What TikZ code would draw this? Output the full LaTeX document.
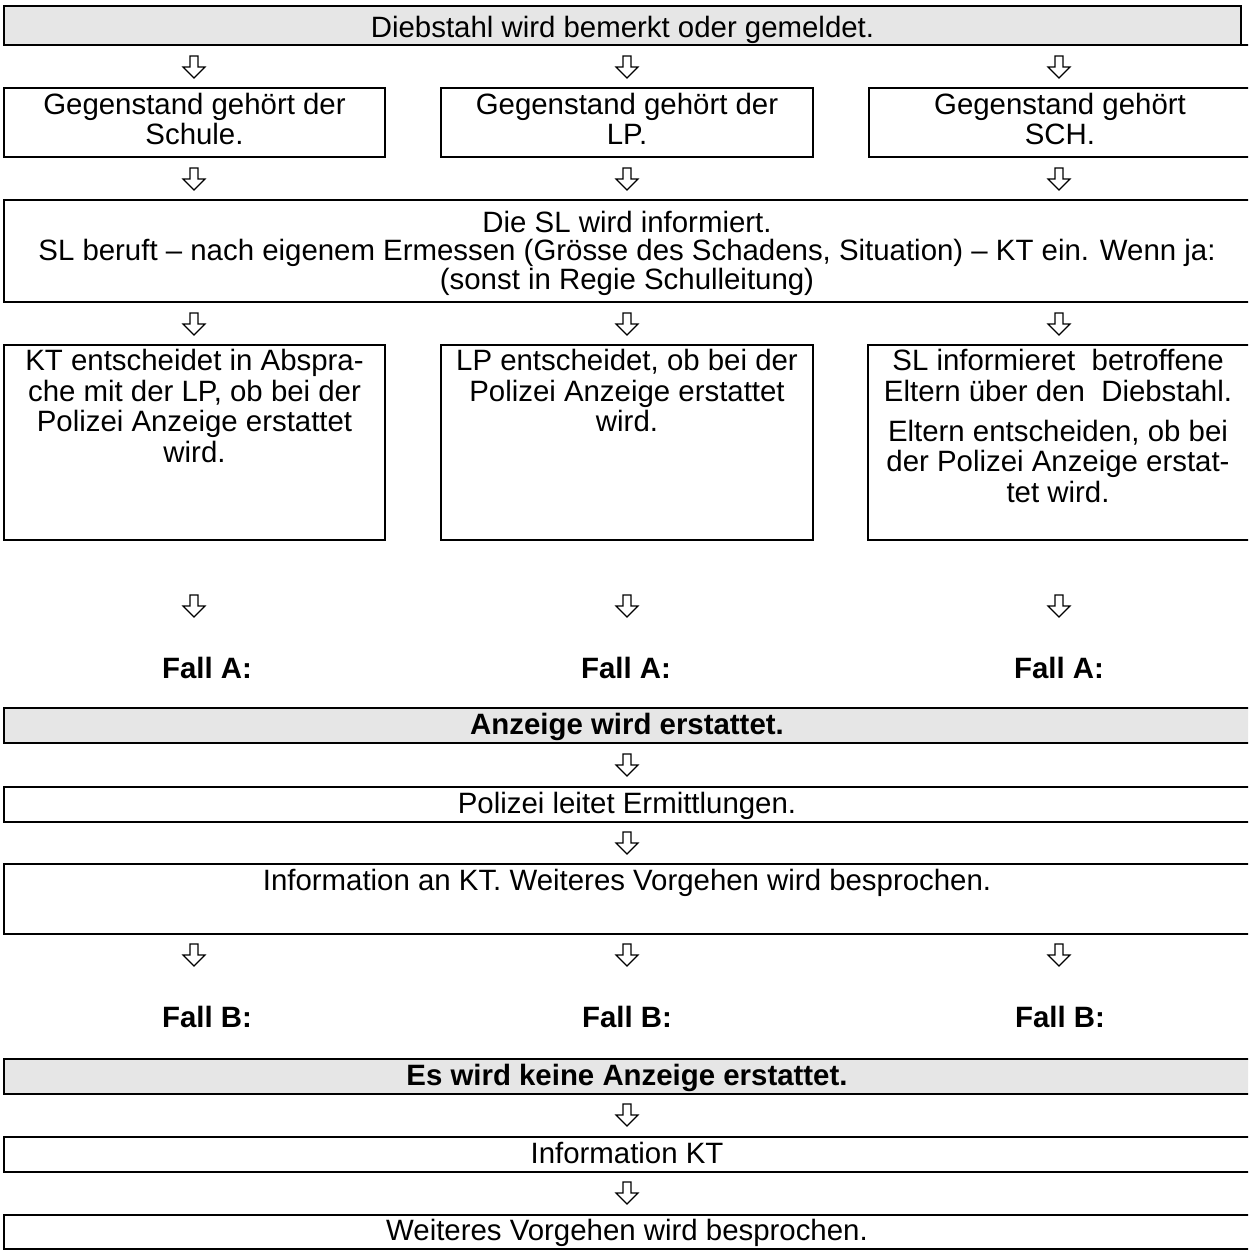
\documentclass[tikz,border=0pt]{standalone}
\usepackage{fontspec}
\setmainfont{Liberation Sans}
\definecolor{boxgray}{RGB}{230,230,230}
\newcommand{\mlines}[2]{\parbox[t]{#1}{\centering #2}}
\begin{document}
\begin{tikzpicture}[x=1pt,y=-1pt,
  box/.style={draw=black, line width=2.2pt, anchor=north west, inner sep=0pt, outer sep=0pt},
  grayfill/.style={fill=boxgray},
  txt/.style={anchor=base, inner sep=0pt, font=\fontsize{29.4}{30.5}\selectfont},
  boldtxt/.style={txt, font=\fontsize{29.4}{30.5}\selectfont\bfseries},
  darrow/.pic={\draw[line width=1.1pt] (-4,-11) -- (4,-11) -- (4,0) -- (11,0) -- (0,11) -- (-11,0) -- (-4,0) -- cycle;}
]
\path[use as bounding box] (0,0) rectangle (1248,1250);
\clip (0,0) rectangle (1248,1250);

% boxes
\node[box, grayfill, minimum width=1237pt, minimum height=39pt] (top) at (4,6) {};
\draw[line width=2.2pt] (top.south east) -- ++(8,0);
\node[box, minimum width=381pt, minimum height=69pt] (g1) at (4,88) {};
\node[box, minimum width=372pt, minimum height=69pt] (g2) at (441,88) {};
\node[box, minimum width=386pt, minimum height=69pt] (g3) at (869,88) {};
\node[box, minimum width=1254pt, minimum height=102pt] (sl) at (4,200) {};
\node[box, minimum width=381pt, minimum height=195pt] (d1) at (4,345) {};
\node[box, minimum width=372pt, minimum height=195pt] (d2) at (441,345) {};
\node[box, minimum width=387pt, minimum height=195pt] (d3) at (868,345) {};
\node[box, grayfill, minimum width=1254pt, minimum height=35pt] (anz) at (4,708) {};
\node[box, minimum width=1254pt, minimum height=35pt] (pol) at (4,787) {};
\node[box, minimum width=1254pt, minimum height=70pt] (inf) at (4,864) {};
\node[box, grayfill, minimum width=1254pt, minimum height=35pt] (kein) at (4,1059) {};
\node[box, minimum width=1254pt, minimum height=35pt] (ikt) at (4,1137) {};
\node[box, minimum width=1254pt, minimum height=34pt] (wei) at (4,1215) {};

% texts
\node[txt] (ttop) at (622.5,37) {Diebstahl wird bemerkt oder gemeldet.};
\node[txt] (tg1) at (194.5,114) {\mlines{420pt}{Gegenstand gehört der\\Schule.}};
\node[txt] (tg2) at (627,114) {\mlines{420pt}{Gegenstand gehört der\\LP.}};
\node[txt] (tg3) at (1060,114) {\mlines{420pt}{Gegenstand gehört\\SCH.}};
\node[txt, font=\fontsize{29.4}{28.5}\selectfont] (tsl) at (627,232) {\mlines{1300pt}{Die SL wird informiert.\\SL beruft – nach eigenem Ermessen (Grösse des Schadens, Situation) – KT ein. Wenn ja:\\(sonst in Regie Schulleitung)}};
\node[txt] (td1) at (194.5,370.5) {\mlines{420pt}{KT entscheidet in Abspra-\\che mit der LP, ob bei der\\Polizei Anzeige erstattet\\wird.}};
\node[txt] (td2) at (627,370.5) {\mlines{420pt}{LP entscheidet, ob bei der\\Polizei Anzeige erstattet\\wird.}};
\node[txt] (td3) at (1058,370.5) {\mlines{420pt}{SL informieret\ \ betroffene\\Eltern über den\ \ Diebstahl.\\[9.5pt]Eltern entscheiden, ob bei\\der Polizei Anzeige erstat-\\tet wird.}};
\node[boldtxt] (fa1) at (207,678.5) {Fall A:};
\node[boldtxt] (fa2) at (626,678.5) {Fall A:};
\node[boldtxt] (fa3) at (1059,678.5) {Fall A:};
\node[boldtxt] (tanz) at (627,734) {Anzeige wird erstattet.};
\node[txt] (tpol) at (627,813) {Polizei leitet Ermittlungen.};
\node[txt] (tinf) at (627,890) {Information an KT. Weiteres Vorgehen wird besprochen.};
\node[boldtxt] (fb1) at (207,1027.5) {Fall B:};
\node[boldtxt] (fb2) at (627,1027.5) {Fall B:};
\node[boldtxt] (fb3) at (1060,1027.5) {Fall B:};
\node[boldtxt] (tkein) at (627,1085) {Es wird keine Anzeige erstattet.};
\node[txt] (tikt) at (627,1163) {Information KT};
\node[txt] (twei) at (627,1240) {Weiteres Vorgehen wird besprochen.};

% arrow glyphs
\foreach \y in {67,179,324,606,955}{
  \foreach \x in {194,627,1059}{
    \pic at (\x,\y) {darrow};
  }
}
\foreach \y in {765,843,1115,1193}{
  \pic at (627,\y) {darrow};
}
\end{tikzpicture}
\end{document}
